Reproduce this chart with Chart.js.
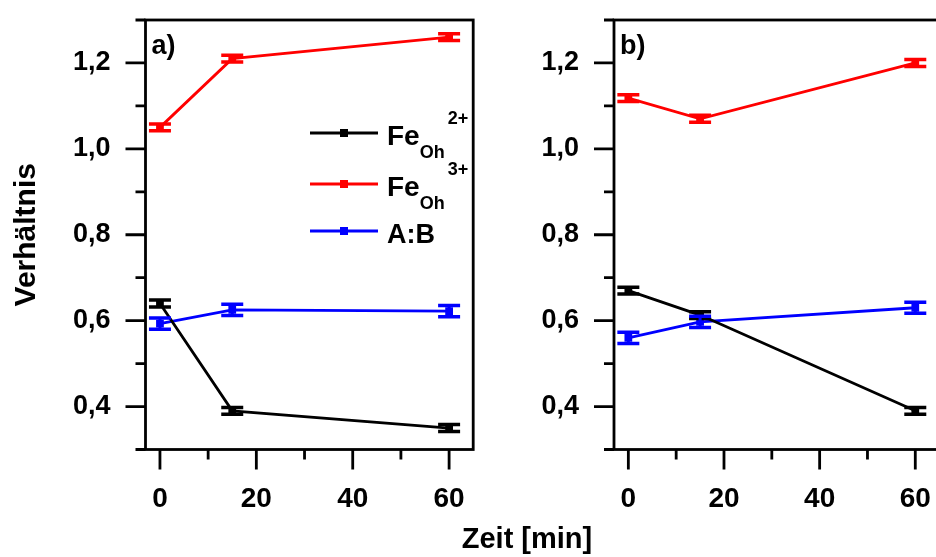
<!DOCTYPE html>
<html lang="de">
<head>
<meta charset="UTF-8">
<title>Verhältnis über Zeit</title>
<script src="https://cdn.jsdelivr.net/npm/chart.js"></script>
<style>
    html, body {
        margin: 0;
        padding: 0;
        background: #fff;
        overflow: hidden;
    }
    #wrap {
        position: relative;
        width: 936px;
        height: 557px;
        overflow: hidden;
    }
    canvas {
        position: absolute;
        top: 0;
    }
    #chartA { left: 0; }
    #chartB { left: 540px; }
    #xTitle {
        position: absolute;
        left: 377px;
        width: 300px;
        top: 524px;
        text-align: center;
        font: bold 29px "Liberation Sans", Arial, sans-serif;
        line-height: 29px;
        color: #000;
    }
</style>
</head>
<body>
<div id="wrap">
    <canvas id="chartA" width="480" height="557"></canvas>
    <canvas id="chartB" width="406" height="557"></canvas>
    <div id="xTitle">Zeit [min]</div>
</div>

<script>
    // time axis and ticks
    const times = [0, 15, 60];
    const xTicks = [0, 20, 40, 60];
    const xMinor = [10, 30, 50];
    const yTicks = [0.4, 0.6, 0.8, 1.0, 1.2];
    const yMinor = [0.3, 0.5, 0.7, 0.9, 1.1, 1.3];

    // panel a)
    const fe2A = [0.64, 0.39, 0.35];
    const fe2AErr = [0.008, 0.008, 0.008];
    const fe3A = [1.05, 1.21, 1.26];
    const fe3AErr = [0.008, 0.008, 0.008];
    const abA = [0.593, 0.625, 0.622];
    const abAErr = [0.013, 0.013, 0.013];

    // panel b)
    const fe2B = [0.67, 0.613, 0.39];
    const fe2BErr = [0.008, 0.008, 0.008];
    const fe3B = [1.118, 1.07, 1.20];
    const fe3BErr = [0.008, 0.008, 0.008];
    const abB = [0.56, 0.597, 0.63];
    const abBErr = [0.013, 0.013, 0.013];

    // legend text: main, subscript, superscript
    const legendMain = ["Fe", "Fe", "A:B"];
    const legendSub = ["Oh", "Oh", ""];
    const legendSup = ["2+", "3+", ""];
    const seriesColors = ["#000000", "#ff0000", "#0000ff"];

    const FONT = '"Liberation Sans", Arial, sans-serif';
    Chart.defaults.font.family = FONT;
    Chart.defaults.font.weight = "bold";
    Chart.defaults.color = "#000";

    const fmt = v => v.toFixed(1).replace(".", ",");

    // error bars on top of the lines
    const errorBars = {
        id: "errorBars",
        afterDatasetsDraw(chart) {
            const ctx = chart.ctx;
            const xs = chart.scales.x, ys = chart.scales.y;
            ctx.save();
            chart.data.datasets.forEach(ds => {
                ctx.strokeStyle = ds.borderColor;
                ds.data.forEach((p, i) => {
                    const e = ds.errors[i];
                    const px = xs.getPixelForValue(p.x);
                    const top = ys.getPixelForValue(p.y + e);
                    const bot = ys.getPixelForValue(p.y - e);
                    ctx.lineWidth = 3;
                    ctx.beginPath();
                    ctx.moveTo(px, top);
                    ctx.lineTo(px, bot);
                    ctx.stroke();
                    ctx.lineWidth = 3.5;
                    ctx.beginPath();
                    ctx.moveTo(px - 11, top);
                    ctx.lineTo(px + 11, top);
                    ctx.moveTo(px - 11, bot);
                    ctx.lineTo(px + 11, bot);
                    ctx.stroke();
                });
            });
            ctx.restore();
        }
    };

    // box, outward ticks and panel letter
    const frame = {
        id: "frame",
        afterDraw(chart, args, opts) {
            const ctx = chart.ctx;
            const a = chart.chartArea;
            const xs = chart.scales.x, ys = chart.scales.y;
            ctx.save();
            ctx.strokeStyle = "#000";
            ctx.lineWidth = 2.8;
            ctx.lineCap = "butt";
            ctx.strokeRect(a.left, a.top, a.right - a.left, a.bottom - a.top);
            ctx.beginPath();
            xTicks.forEach(v => {
                const px = xs.getPixelForValue(v);
                ctx.moveTo(px, a.bottom);
                ctx.lineTo(px, a.bottom + 20);
            });
            xMinor.forEach(v => {
                const px = xs.getPixelForValue(v);
                ctx.moveTo(px, a.bottom);
                ctx.lineTo(px, a.bottom + 10);
            });
            yTicks.forEach(v => {
                const py = ys.getPixelForValue(v);
                ctx.moveTo(a.left, py);
                ctx.lineTo(a.left - 20, py);
            });
            yMinor.forEach(v => {
                const py = ys.getPixelForValue(v);
                ctx.moveTo(a.left, py);
                ctx.lineTo(a.left - 10, py);
            });
            ctx.stroke();
            ctx.fillStyle = "#000";
            ctx.font = "bold 27px " + FONT;
            ctx.textBaseline = "alphabetic";
            ctx.fillText(opts.letter, a.left + 6, 54);
            ctx.restore();
        }
    };

    // legend with sub- and superscripts
    const richLegend = {
        id: "richLegend",
        afterDraw(chart, args, opts) {
            if (!opts.show) return;
            const ctx = chart.ctx;
            ctx.save();
            opts.rows.forEach((rowY, i) => {
                ctx.strokeStyle = seriesColors[i];
                ctx.fillStyle = seriesColors[i];
                ctx.lineWidth = 2.8;
                ctx.beginPath();
                ctx.moveTo(opts.x, rowY);
                ctx.lineTo(opts.x + 68, rowY);
                ctx.stroke();
                ctx.fillRect(opts.x + 30, rowY - 4, 8, 8);

                ctx.fillStyle = "#000";
                ctx.textBaseline = "alphabetic";
                ctx.font = "bold " + (legendSub[i] ? 28 : 27) + "px " + FONT;
                const tx = opts.x + 77;
                const base = rowY + 12;
                ctx.fillText(legendMain[i], tx, base);
                const w = ctx.measureText(legendMain[i]).width;
                ctx.font = "bold 18px " + FONT;
                if (legendSub[i]) ctx.fillText(legendSub[i], tx + w, base + 13);
                if (legendSup[i]) ctx.fillText(legendSup[i], tx + w + 28, base - 21);
            });
            ctx.restore();
        }
    };

    function series(values, errs, color) {
        return {
            data: times.map((t, i) => ({ x: t, y: values[i] })),
            errors: errs,
            borderColor: color,
            backgroundColor: color,
            borderWidth: 2.8,
            pointStyle: "rect",
            pointRadius: 3.5,
            showLine: true,
            tension: 0
        };
    }

    function makePanel(canvasId, datasets, opts) {
        return new Chart(document.getElementById(canvasId), {
            type: "scatter",
            data: { datasets: datasets },
            options: {
                responsive: false,
                animation: false,
                events: [],
                layout: { padding: { top: 20, right: opts.rightPad, left: 0, bottom: 0 } },
                scales: {
                    x: {
                        type: "linear",
                        min: -3,
                        max: 65,
                        afterBuildTicks: s => { s.ticks = xTicks.map(v => ({ value: v })); },
                        afterFit: s => {
                            s.height = 107.5;
                            s.paddingLeft = 0;
                            s.paddingRight = 0;
                        },
                        grid: { display: false, drawTicks: true, tickLength: 20 },
                        border: { display: false },
                        ticks: { font: { size: 28, weight: "bold" }, padding: 13, maxRotation: 0 }
                    },
                    y: {
                        type: "linear",
                        min: 0.3,
                        max: 1.3,
                        afterBuildTicks: s => { s.ticks = yTicks.map(v => ({ value: v })); },
                        afterFit: s => {
                            s.width = opts.yWidth;
                            s.paddingTop = 0;
                            s.paddingBottom = 0;
                        },
                        grid: { display: false, drawTicks: true, tickLength: 20 },
                        border: { display: false },
                        ticks: { font: { size: 27, weight: "bold" }, padding: 15, callback: v => fmt(v) },
                        title: {
                            display: opts.yTitle,
                            text: "Verhältnis",
                            font: { size: 30, weight: "bold" },
                            padding: { top: 9, bottom: 0 }
                        }
                    }
                },
                plugins: {
                    legend: { display: false },
                    tooltip: { enabled: false },
                    frame: { letter: opts.letter },
                    richLegend: { show: opts.legend, x: 310, rows: [133, 184, 231] }
                }
            },
            plugins: [errorBars, frame, richLegend]
        });
    }

    makePanel("chartA", [
        series(fe2A, fe2AErr, seriesColors[0]),
        series(fe3A, fe3AErr, seriesColors[1]),
        series(abA, abAErr, seriesColors[2])
    ], { letter: "a)", yWidth: 145.5, rightPad: 3.5, yTitle: true, legend: true });

    makePanel("chartB", [
        series(fe2B, fe2BErr, seriesColors[0]),
        series(fe3B, fe3BErr, seriesColors[1]),
        series(abB, abBErr, seriesColors[2])
    ], { letter: "b)", yWidth: 74, rightPad: 1, yTitle: false, legend: false });
</script>
</body>
</html>
